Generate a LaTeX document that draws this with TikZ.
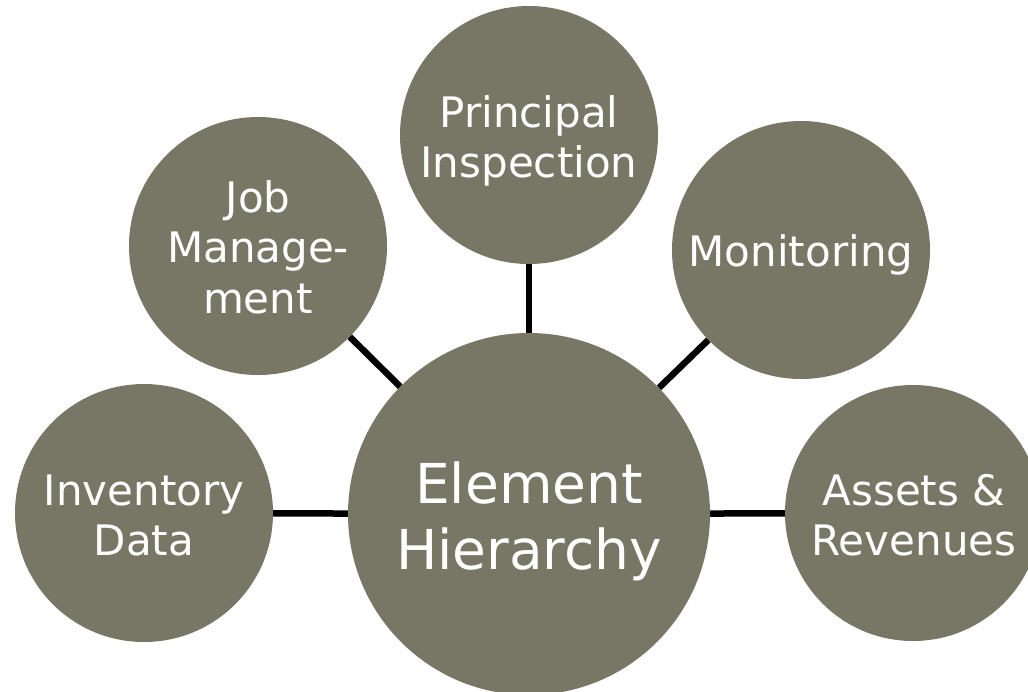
\documentclass[tikz,border=0pt]{standalone}
\usepackage{fontspec}
\setmainfont{DejaVu Sans}
\definecolor{bubble}{RGB}{120,119,101}
\begin{document}
\begin{tikzpicture}[x=1pt,y=-1pt,
  bub/.style={circle,fill=bubble,draw=none,inner sep=0pt,minimum size=#1},
  lbl/.style={text=white,align=center,anchor=base,inner sep=0pt},
  small/.style={font=\fontsize{42}{49.5}\selectfont},
  big/.style={font=\fontsize{55}{66}\selectfont},
  link/.style={line width=6.5pt,black}]
\useasboundingbox (0,0) rectangle (1028,691);
\clip (0,0) rectangle (1028,691);
% circles
\node[bub=362pt] (E) at (529,514) {};
\node[bub=258pt] (P) at (529,135) {};
\node[bub=258pt] (J) at (258,246) {};
\node[bub=258pt] (M) at (801,250) {};
\node[bub=258pt] (I) at (144,513) {};
\node[bub=256pt] (A) at (913,513) {};
% labels (anchored at the baseline of the last line)
\node[lbl,big] (tE) at (529,569) {Element\\Hierarchy};
\node[lbl,small] (tP) at (529,177) {Principal\\Inspection};
\node[lbl,font=\fontsize{42}{50.5}\selectfont] (tJ) at (258,313) {Job\\Manage-\\ment};
\node[lbl,small] (tM) at (801,266) {Monitoring};
\node[lbl,small] (tI) at (144,555) {Inventory\\Data};
\node[lbl,small] (tA) at (914,555) {Assets \&\\Revenues};
% connectors
\draw[link] (E) -- (P);
\draw[link] (E) -- (J);
\draw[link] (E) -- (M);
\draw[link] (E) -- (I);
\draw[link] (E) -- (A);
\end{tikzpicture}
\end{document}
